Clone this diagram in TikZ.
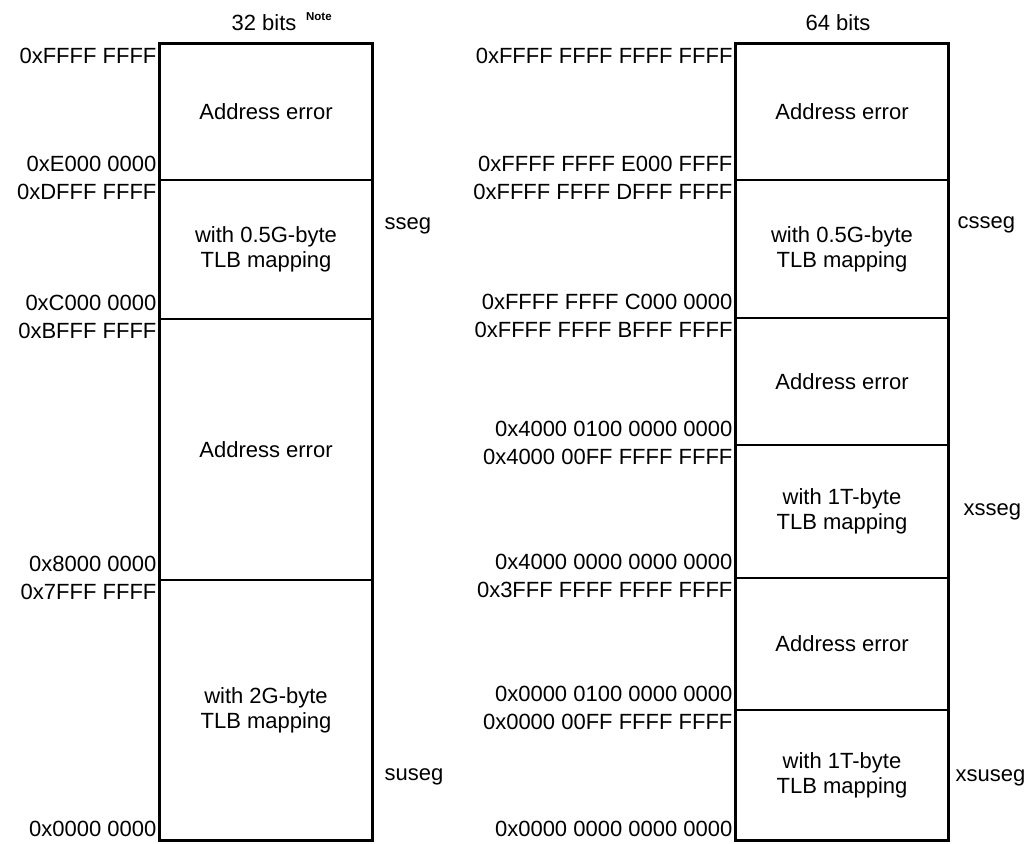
\documentclass[tikz,border=0pt]{standalone}
\usepackage{fontspec}
\setmainfont{Liberation Sans}
\begin{document}
\begin{tikzpicture}[x=1pt,y=-1pt,
    font=\fontsize{22}{25}\selectfont,
    seg/.style={draw, line width=1.8pt, minimum width=211pt, inner sep=0pt, align=center},
    addr/.style={inner sep=0pt, anchor=base east},
    segname/.style={inner sep=0pt, anchor=west}]
  \useasboundingbox (0,0) rectangle (1033,843);
  % Titles
  \node (t32) at (264,23) {32 bits};
  \node[font=\bfseries\fontsize{11.5}{13}\selectfont, inner sep=0pt, anchor=base west] (note) at ([shift={(6,-10)}]t32.base east) {Note};
  \node (t64) at (838,23) {64 bits};
  % 32-bit segments (top to bottom)
  \node[seg, minimum height=136pt] (l1) at (266,112) {Address error};
  \node[seg, minimum height=139pt] (l2) at (266,249.5) {with 0.5G-byte\\TLB mapping};
  \node[seg, minimum height=261pt] (l3) at (266,449.5) {Address error};
  \node[seg, minimum height=260pt] (l4) at (266,710) {with 2G-byte\\TLB mapping};
  % 64-bit segments (top to bottom)
  \node[seg, minimum height=136pt] (r1) at (842,112) {Address error};
  \node[seg, minimum height=138pt] (r2) at (842,249) {with 0.5G-byte\\TLB mapping};
  \node[seg, minimum height=127pt] (r3) at (842,381.5) {Address error};
  \node[seg, minimum height=133pt] (r4) at (842,511.5) {with 1T-byte\\TLB mapping};
  \node[seg, minimum height=132pt] (r5) at (842,644) {Address error};
  \node[seg, minimum height=130pt] (r6) at (842,775) {with 1T-byte\\TLB mapping};
  % Outer frames
  \draw[line width=2.6pt] (l1.north west) rectangle (l4.south east);
  \draw[line width=2.6pt] (r1.north west) rectangle (r6.south east);
  % 32-bit addresses
  \node[addr] (l1t) at ([shift={(-3,20)}]l1.north west) {0xFFFF FFFF};
  \node[addr] (l1b) at ([shift={(-3,-9)}]l1.south west) {0xE000 0000};
  \node[addr] (l2t) at ([shift={(-3,20)}]l2.north west) {0xDFFF FFFF};
  \node[addr] (l2b) at ([shift={(-3,-9)}]l2.south west) {0xC000 0000};
  \node[addr] (l3t) at ([shift={(-3,20)}]l3.north west) {0xBFFF FFFF};
  \node[addr] (l3b) at ([shift={(-3,-9)}]l3.south west) {0x8000 0000};
  \node[addr] (l4t) at ([shift={(-3,20)}]l4.north west) {0x7FFF FFFF};
  \node[addr] (l4b) at ([shift={(-3,-4)}]l4.south west) {0x0000 0000};
  % 64-bit addresses
  \node[addr] (r1t) at ([shift={(-3,20)}]r1.north west) {0xFFFF FFFF FFFF FFFF};
  \node[addr] (r1b) at ([shift={(-3,-9)}]r1.south west) {0xFFFF FFFF E000 FFFF};
  \node[addr] (r2t) at ([shift={(-3,20)}]r2.north west) {0xFFFF FFFF DFFF FFFF};
  \node[addr] (r2b) at ([shift={(-3,-9)}]r2.south west) {0xFFFF FFFF C000 0000};
  \node[addr] (r3t) at ([shift={(-3,20)}]r3.north west) {0xFFFF FFFF BFFF FFFF};
  \node[addr] (r3b) at ([shift={(-3,-9)}]r3.south west) {0x4000 0100 0000 0000};
  \node[addr] (r4t) at ([shift={(-3,20)}]r4.north west) {0x4000 00FF FFFF FFFF};
  \node[addr] (r4b) at ([shift={(-3,-9)}]r4.south west) {0x4000 0000 0000 0000};
  \node[addr] (r5t) at ([shift={(-3,20)}]r5.north west) {0x3FFF FFFF FFFF FFFF};
  \node[addr] (r5b) at ([shift={(-3,-9)}]r5.south west) {0x0000 0100 0000 0000};
  \node[addr] (r6t) at ([shift={(-3,20)}]r6.north west) {0x0000 00FF FFFF FFFF};
  \node[addr] (r6b) at ([shift={(-3,-4)}]r6.south west) {0x0000 0000 0000 0000};
  % Segment names
  \node[segname] (sseg)   at ([shift={(12,-24)}]l2.east) {sseg};
  \node[segname] (suseg)  at ([shift={(12,67)}]l4.east)  {suseg};
  \node[segname] (csseg)  at ([shift={(9,-24)}]r2.east)  {csseg};
  \node[segname] (xsseg)  at ([shift={(15,0)}]r4.east)   {xsseg};
  \node[segname] (xsuseg) at ([shift={(7,3)}]r6.east)    {xsuseg};
\end{tikzpicture}
\end{document}
